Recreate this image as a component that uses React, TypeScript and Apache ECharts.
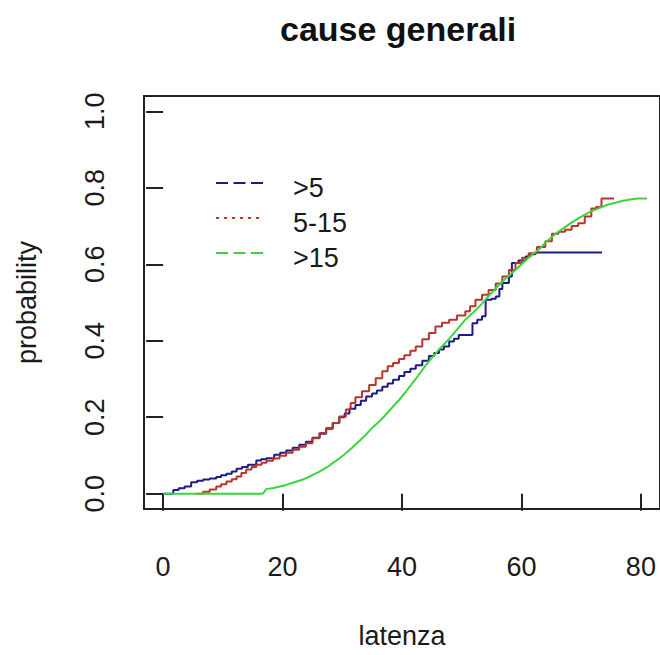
import React, { useEffect, useRef } from "react";
import * as echarts from "echarts";

// ---- data ----
const xTicks = [0, 20, 40, 60, 80];
const yTicks = [0, 0.2, 0.4, 0.6, 0.8, 1.0];

const seriesNames = [">5", "5-15", ">15"];

// >5 (blue)
const blueX = [0, 1.7, 2.6, 3.6, 4.7, 5.7, 6.7, 7.8, 8.9, 9.7, 10.6, 11.5, 12.3, 13.2, 14.2, 15.6, 16.4, 17.3, 18.6, 19.6, 20.6, 21.7, 22.8, 23.9, 25, 26.2, 27.3, 28.4, 29.5, 30.4, 31.2, 32.2, 33.1, 34, 35, 35.8, 36.7, 37.6, 38.5, 39.5, 40.4, 41.4, 42.3, 43.4, 44.5, 45.4, 46.2, 47, 47.9, 48.7, 49.5, 51.8, 52.6, 53.4, 54, 55, 55.7, 56.3, 56.8, 57.9, 58.4, 59.5, 60.7, 61.5, 62.3, 73.5];
const blueY = [0, 0.01, 0.014, 0.019, 0.03, 0.034, 0.037, 0.04, 0.044, 0.048, 0.052, 0.058, 0.065, 0.07, 0.076, 0.087, 0.09, 0.093, 0.102, 0.107, 0.113, 0.12, 0.128, 0.136, 0.146, 0.157, 0.17, 0.185, 0.2, 0.21, 0.222, 0.232, 0.243, 0.254, 0.262, 0.27, 0.28, 0.288, 0.298, 0.308, 0.318, 0.327, 0.336, 0.348, 0.36, 0.368, 0.377, 0.385, 0.398, 0.405, 0.415, 0.446, 0.455, 0.464, 0.507, 0.51, 0.516, 0.535, 0.551, 0.568, 0.603, 0.61, 0.62, 0.626, 0.631, 0.631];

// 5-15 (red)
const redX = [5.6, 6.7, 7.8, 8.9, 9.7, 10.6, 11.5, 12.3, 13.1, 13.9, 14.8, 15.6, 16.5, 17.3, 18.4, 19.5, 20.6, 21.7, 22.8, 23.9, 25, 26.2, 27.3, 28.4, 29.5, 30.6, 31.4, 32.2, 33.3, 34.5, 35.6, 36.7, 37.6, 38.5, 39.5, 40.4, 41.4, 42.3, 43.4, 44.5, 45.6, 46.7, 47.9, 49.2, 50.6, 51.4, 52.3, 53.4, 54.5, 55.7, 56.8, 57.9, 59, 60.1, 61.2, 62.6, 64, 65.1, 66.2, 67.3, 68.4, 69.5, 70.6, 71.7, 72.5, 73.4, 75.5];
const redY = [0, 0.005, 0.011, 0.019, 0.025, 0.032, 0.038, 0.045, 0.054, 0.063, 0.07, 0.076, 0.081, 0.086, 0.092, 0.099, 0.107, 0.115, 0.123, 0.132, 0.145, 0.159, 0.172, 0.185, 0.202, 0.22, 0.237, 0.252, 0.268, 0.284, 0.302, 0.32, 0.333, 0.342, 0.352, 0.362, 0.374, 0.385, 0.404, 0.42, 0.437, 0.447, 0.455, 0.466, 0.477, 0.49, 0.507, 0.52, 0.533, 0.55, 0.568, 0.585, 0.603, 0.617, 0.629, 0.645, 0.66, 0.68, 0.685, 0.69, 0.7, 0.707, 0.725, 0.746, 0.75, 0.772, 0.772];

// >15 (green)
const greenX = [0, 16.7, 17.3, 18.5, 20.6, 22, 23.4, 24.8, 26.2, 27.3, 28.4, 29.5, 30.6, 31.7, 32.8, 34, 35, 36, 37, 38.4, 39.5, 40.5, 42.3, 44, 45.1, 46.2, 47.9, 49, 50.6, 52, 53.4, 54.5, 56.2, 57.5, 59, 60.5, 62, 63, 64.6, 66, 67.3, 68.5, 70.1, 71.5, 72.9, 74.3, 75.7, 77, 78.5, 79.5, 81];
const greenY = [0, 0, 0.012, 0.015, 0.023, 0.03, 0.037, 0.047, 0.058, 0.068, 0.08, 0.092, 0.106, 0.121, 0.137, 0.155, 0.172, 0.186, 0.202, 0.226, 0.245, 0.264, 0.3, 0.336, 0.357, 0.377, 0.405, 0.425, 0.455, 0.475, 0.497, 0.517, 0.545, 0.565, 0.585, 0.607, 0.628, 0.64, 0.665, 0.683, 0.697, 0.71, 0.725, 0.737, 0.746, 0.755, 0.761, 0.766, 0.77, 0.772, 0.772];

const colors = ["#1c1c82", "#b8352a", "#3cd43c"];

const FONT = "'Liberation Sans', Arial, sans-serif";
const INK = "#1a1a1a";

const zip = (xs: number[], ys: number[]) => xs.map((x, i) => [x, ys[i]]);

export default function App() {
  const ref = useRef<HTMLDivElement>(null);

  useEffect(() => {
    document.body.style.margin = "0";
    const chart = echarts.init(ref.current as HTMLDivElement, null, { renderer: "svg" });

    const legendYs = [183, 218, 253];
    const dashes = [[12, 5.5], [3, 5], [12, 5.5]];
    const legendGraphics: any[] = [];
    seriesNames.forEach((name, i) => {
      legendGraphics.push({
        type: "line",
        shape: { x1: 216, y1: legendYs[i], x2: 263, y2: legendYs[i] },
        style: { stroke: colors[i], lineWidth: 2, lineDash: dashes[i] },
        z: 100,
      });
      legendGraphics.push({
        type: "text",
        x: 293,
        y: legendYs[i] + 4.5,
        style: {
          text: name,
          font: `27px ${FONT}`,
          fill: INK,
          textAlign: "left",
          textVerticalAlign: "middle",
        },
        z: 100,
      });
    });

    chart.setOption({
      animation: false,
      backgroundColor: "#ffffff",
      title: {
        text: "cause generali",
        left: 280,
        top: 12,
        padding: 0,
        textStyle: { fontFamily: FONT, fontWeight: "bold", fontSize: 34, color: "#111" },
      },
      grid: {
        left: 144,
        top: 96,
        width: 518,
        height: 413,
        show: true,
        borderColor: "#222",
        borderWidth: 2,
        backgroundColor: "transparent",
        containLabel: false,
      },
      xAxis: {
        type: "value",
        min: -3.2,
        max: 83.2,
        name: "latenza",
        nameLocation: "middle",
        nameGap: 113,
        nameTextStyle: { fontFamily: FONT, fontSize: 27, color: INK },
        axisLine: { show: false },
        splitLine: { show: false },
        axisTick: { show: true, length: 17, customValues: xTicks, lineStyle: { color: "#222", width: 2 } },
        axisLabel: {
          customValues: xTicks,
          margin: 44,
          fontFamily: FONT,
          fontSize: 27,
          color: INK,
          formatter: (v: number) => String(v),
        },
      },
      yAxis: {
        type: "value",
        min: -0.04,
        max: 1.04,
        name: "probability",
        nameLocation: "middle",
        nameGap: 104,
        nameTextStyle: { fontFamily: FONT, fontSize: 27, color: INK },
        axisLine: { show: false },
        splitLine: { show: false },
        axisTick: { show: true, length: 17, customValues: yTicks, lineStyle: { color: "#222", width: 2 } },
        axisLabel: {
          customValues: yTicks,
          rotate: 90,
          margin: 36,
          fontFamily: FONT,
          fontSize: 27,
          color: INK,
          formatter: (v: number) => v.toFixed(1),
        },
      },
      series: [
        {
          name: seriesNames[0],
          type: "line",
          step: "end",
          symbol: "none",
          data: zip(blueX, blueY),
          lineStyle: { color: colors[0], width: 2 },
          itemStyle: { color: colors[0] },
          z: 2,
        },
        {
          name: seriesNames[1],
          type: "line",
          step: "end",
          symbol: "none",
          data: zip(redX, redY),
          lineStyle: { color: colors[1], width: 2 },
          itemStyle: { color: colors[1] },
          z: 3,
        },
        {
          name: seriesNames[2],
          type: "line",
          symbol: "none",
          data: zip(greenX, greenY),
          lineStyle: { color: colors[2], width: 2 },
          itemStyle: { color: colors[2] },
          z: 4,
        },
      ],
      graphic: legendGraphics,
    });

    return () => chart.dispose();
  }, []);

  return (
    <div
      ref={ref}
      style={{ position: "absolute", left: 0, top: 0, width: 660, height: 655, background: "#fff" }}
    />
  );
}
